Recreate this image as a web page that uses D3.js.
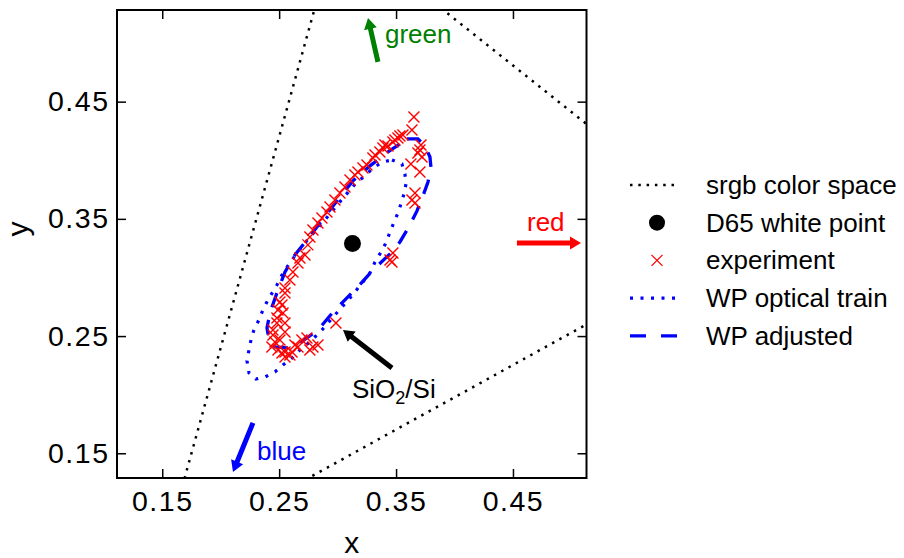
<!DOCTYPE html>
<html>
<head>
<meta charset="utf-8">
<script src="https://cdn.jsdelivr.net/npm/d3@7"></script>
<style>
body { margin: 0; background: #fff; }
text { font-family: "Liberation Sans", Arial, sans-serif; }
</style>
</head>
<body>
<script>
// axis ticks
const xTicks = [0.15, 0.25, 0.35, 0.45];
const yTicks = [0.15, 0.25, 0.35, 0.45];
const tickLabels = ['0.15', '0.25', '0.35', '0.45'];

// srgb triangle R, G, B (closed)
const srgbX = [0.64, 0.30, 0.15, 0.64];
const srgbY = [0.33, 0.60, 0.06, 0.33];

// D65 white point
const d65 = [0.3127, 0.3290];

// measured chromaticities
const expX = [0.3653,0.3636,0.3559,0.3533,0.3516,0.3490,0.3473,0.3431,0.3405,0.3388,0.3362,0.3320,0.3302,
  0.3251,0.3217,0.3174,0.3148,0.3106,0.3063,0.3020,0.2977,0.2935,0.2909,0.2866,0.2832,0.2789,0.2763,0.2746,
  0.2721,0.2678,0.2661,0.2618,0.2592,0.2550,0.2550,0.2507,0.2524,0.2490,0.2533,0.2481,0.2550,0.2481,0.2447,
  0.2550,0.2447,0.2464,0.2507,0.2438,0.2490,0.2550,0.2610,0.2635,0.2661,0.2695,0.2738,0.2789,0.2763,0.2832,
  0.2550,0.2592,0.2524,
  0.3713,0.3704,0.3722,0.3687,0.3627,0.3704,0.3662,0.3636,0.3662,0.3473,0.3448,0.3465,
  0.2986];
const expY = [0.4370,0.4259,0.4216,0.4207,0.4190,0.4173,0.4156,0.4122,0.4131,0.4105,0.4071,0.4045,0.4020,
  0.3960,0.3934,0.3900,0.3875,0.3832,0.3772,0.3721,0.3661,0.3602,0.3559,0.3508,0.3465,0.3405,0.3346,0.3278,
  0.3192,0.3167,0.3124,0.3047,0.2979,0.2911,0.2868,0.2791,0.2765,0.2723,0.2697,0.2655,0.2612,0.2612,0.2552,
  0.2535,0.2510,0.2450,0.2467,0.2407,0.2382,0.2365,0.2365,0.2424,0.2407,0.2467,0.2484,0.2407,0.2382,0.2424,
  0.2322,0.2339,0.2356,
  0.4131,0.4088,0.4028,0.4062,0.3969,0.3900,0.3721,0.3661,0.3636,0.3209,0.3150,0.3132,
  0.2612];

// white point loop, optical train model
const optX = [0.3465,0.3550,0.3576,0.3585,0.3568,0.3542,0.3516,0.3473,0.3439,0.3405,0.3362,0.3320,0.3277,
  0.3217,0.3106,0.2977,0.2866,0.2763,0.2678,0.2610,0.2533,0.2464,0.2379,0.2302,0.2242,0.2225,0.2242,0.2259,
  0.2284,0.2327,0.2361,0.2404,0.2481,0.2533,0.2652,0.2763,0.2892,0.3054,0.3166,0.3234,0.3302,0.3388,0.3465];
const optY = [0.4003,0.3969,0.3883,0.3798,0.3713,0.3627,0.3550,0.3448,0.3363,0.3278,0.3201,0.3132,0.3039,
  0.2962,0.2825,0.2680,0.2552,0.2450,0.2382,0.2313,0.2254,0.2194,0.2151,0.2134,0.2185,0.2288,0.2382,0.2467,
  0.2552,0.2638,0.2723,0.2808,0.2936,0.3039,0.3209,0.3346,0.3491,0.3687,0.3815,0.3866,0.3934,0.3986,0.4003];

// white point loop, adjusted
const adjX = [0.3593,0.3687,0.3747,0.3790,0.3799,0.3773,0.3730,0.3679,0.3610,0.3533,0.3448,0.3320,0.3148,
  0.2977,0.2832,0.2678,0.2567,0.2464,0.2413,0.2396,0.2421,0.2481,0.2550,0.2635,0.2738,0.2849,0.2994,0.3131,
  0.3277,0.3431,0.3533,0.3593];
const adjY = [0.4182,0.4182,0.4122,0.4028,0.3934,0.3815,0.3696,0.3568,0.3431,0.3303,0.3201,0.3081,0.2894,
  0.2723,0.2552,0.2441,0.2399,0.2407,0.2467,0.2569,0.2697,0.2868,0.3047,0.3192,0.3320,0.3465,0.3653,0.3824,
  0.3952,0.4071,0.4139,0.4182];

// annotations: tail -> tip, label anchor (all in chart units)
const notes = [
  {label: 'green', color: '#008000', tail: [0.3345, 0.4839], tip: [0.3260, 0.5214], at: [0.3405, 0.5001]},
  {label: 'red', color: '#ff0000', tail: [0.4534, 0.3295], tip: [0.5082, 0.3295], at: [0.4620, 0.3397]},
  {label: 'blue', color: '#0000ff', tail: [0.2276, 0.1759], tip: [0.2105, 0.1341], at: [0.2310, 0.1443]},
  {label: 'SiO2/Si', color: '#000000', tail: [0.3465, 0.2228], tip: [0.3046, 0.2552], at: [0.3123, 0.1972]}
];

const legendLabels = ['srgb color space', 'D65 white point', 'experiment', 'WP optical train', 'WP adjusted'];

const width = 904, height = 558;
const plot = {left: 117, right: 586.5, top: 10, bottom: 478};

const svg = d3.select('body').append('svg')
  .attr('width', width)
  .attr('height', height);

const x = d3.scaleLinear().domain([0.1113, 0.5129]).range([plot.left, plot.right]);
const y = d3.scaleLinear().domain([0.1289, 0.5282]).range([plot.bottom, plot.top]);

svg.append('clipPath').attr('id', 'clip')
  .append('rect')
  .attr('x', plot.left).attr('y', plot.top)
  .attr('width', plot.right - plot.left).attr('height', plot.bottom - plot.top);

const area = svg.append('g').attr('clip-path', 'url(#clip)');

const line = d3.line().x(d => x(d[0])).y(d => y(d[1]));

area.append('path')
  .attr('d', line(d3.zip(srgbX, srgbY)))
  .attr('fill', 'none')
  .attr('stroke', 'black')
  .attr('stroke-width', 2.5)
  .attr('stroke-dasharray', '2.5,5.8');

area.append('path')
  .attr('d', line(d3.zip(optX, optY)))
  .attr('fill', 'none')
  .attr('stroke', 'blue')
  .attr('stroke-width', 3.2)
  .attr('stroke-dasharray', '3,7.5');

area.append('path')
  .attr('d', line(d3.zip(adjX, adjY)))
  .attr('fill', 'none')
  .attr('stroke', 'blue')
  .attr('stroke-width', 3.3)
  .attr('stroke-dasharray', '15,13');

area.append('circle')
  .attr('cx', x(d65[0]))
  .attr('cy', y(d65[1]))
  .attr('r', 8.5)
  .attr('fill', 'black');

const cross = 'M-5.5,-5.5L5.5,5.5M-5.5,5.5L5.5,-5.5';

area.selectAll('.exp').data(d3.zip(expX, expY))
  .enter()
    .append('path')
    .attr('class', 'exp')
    .attr('d', cross)
    .attr('transform', d => `translate(${x(d[0])},${y(d[1])})`)
    .attr('fill', 'none')
    .attr('stroke', 'red')
    .attr('stroke-width', 1.4);

// arrows
function arrowPoints(x1, y1, x2, y2) {
  const dx = x2 - x1, dy = y2 - y1;
  const len = Math.sqrt(dx * dx + dy * dy);
  const ux = dx / len, uy = dy / len;
  const nx = -uy, ny = ux;
  const w = 2.5, hw = 6.5, hl = 11;
  const bx = x2 - ux * hl, by = y2 - uy * hl;
  return [
    [x1 + nx * w, y1 + ny * w],
    [bx + nx * w, by + ny * w],
    [bx + nx * hw, by + ny * hw],
    [x2, y2],
    [bx - nx * hw, by - ny * hw],
    [bx - nx * w, by - ny * w],
    [x1 - nx * w, y1 - ny * w]
  ].map(p => p.join(',')).join(' ');
}

notes.forEach(n => {
  svg.append('polygon')
    .attr('points', arrowPoints(x(n.tail[0]), y(n.tail[1]), x(n.tip[0]), y(n.tip[1])))
    .attr('fill', n.color);

  let t = svg.append('text')
    .attr('x', x(n.at[0]))
    .attr('y', y(n.at[1]))
    .attr('fill', n.color)
    .attr('font-size', 26);

  if (n.label == 'SiO2/Si') {
    t.append('tspan').text('SiO');
    t.append('tspan').attr('font-size', 18).attr('dy', 6).text('2');
    t.append('tspan').attr('dy', -6).text('/Si');
  } else {
    t.text(n.label);
  }
});

// axes, ticks pointing inward on all sides
const tickLen = 9;

svg.append('g')
  .attr('transform', `translate(0,${plot.bottom})`)
  .call(d3.axisBottom(x).tickValues(xTicks).tickSize(-tickLen).tickPadding(13)
    .tickFormat((d, i) => tickLabels[i]))
  .call(g => g.select('.domain').remove());

svg.append('g')
  .attr('transform', `translate(0,${plot.top})`)
  .call(d3.axisTop(x).tickValues(xTicks).tickSize(-tickLen).tickFormat(''))
  .call(g => g.select('.domain').remove());

svg.append('g')
  .attr('transform', `translate(${plot.left},0)`)
  .call(d3.axisLeft(y).tickValues(yTicks).tickSize(-tickLen).tickPadding(7.5)
    .tickFormat((d, i) => tickLabels[i]))
  .call(g => g.select('.domain').remove());

svg.append('g')
  .attr('transform', `translate(${plot.right},0)`)
  .call(d3.axisRight(y).tickValues(yTicks).tickSize(-tickLen).tickFormat(''))
  .call(g => g.select('.domain').remove());

svg.selectAll('.tick line')
  .attr('stroke', 'black')
  .attr('stroke-width', 1.5);

svg.selectAll('.tick text')
  .attr('fill', 'black')
  .attr('font-size', 28.5)
  .attr('letter-spacing', 1.5)
  .attr('font-family', '"Liberation Sans", Arial, sans-serif');

svg.append('rect')
  .attr('x', plot.left).attr('y', plot.top)
  .attr('width', plot.right - plot.left).attr('height', plot.bottom - plot.top)
  .attr('fill', 'none')
  .attr('stroke', 'black')
  .attr('stroke-width', 2);

svg.append('text')
  .attr('x', (plot.left + plot.right) / 2)
  .attr('y', 553)
  .attr('text-anchor', 'middle')
  .attr('font-size', 30)
  .text('x');

svg.append('text')
  .attr('transform', 'translate(28,229) rotate(-90)')
  .attr('text-anchor', 'middle')
  .attr('font-size', 30)
  .text('y');

// legend
const legend = svg.append('g').attr('transform', 'translate(630,185)');
const rowH = 37.7;

legend.selectAll('.lab').data(legendLabels)
  .enter()
    .append('text')
    .attr('class', 'lab')
    .attr('x', 76)
    .attr('y', (d, i) => i * rowH + 9)
    .attr('font-size', 26)
    .text(d => d);

legend.append('line')
  .attr('x1', 0).attr('x2', 48).attr('y1', 0).attr('y2', 0)
  .attr('stroke', 'black').attr('stroke-width', 2.5).attr('stroke-dasharray', '2.5,5.8');

legend.append('circle')
  .attr('cx', 27).attr('cy', rowH).attr('r', 8)
  .attr('fill', 'black');

legend.append('path')
  .attr('d', cross)
  .attr('transform', `translate(27,${rowH * 2})`)
  .attr('fill', 'none').attr('stroke', 'red').attr('stroke-width', 1.3);

legend.append('line')
  .attr('x1', 0).attr('x2', 48).attr('y1', rowH * 3).attr('y2', rowH * 3)
  .attr('stroke', 'blue').attr('stroke-width', 3.2).attr('stroke-dasharray', '3,7.5');

legend.append('line')
  .attr('x1', 0).attr('x2', 48).attr('y1', rowH * 4).attr('y2', rowH * 4)
  .attr('stroke', 'blue').attr('stroke-width', 3.3).attr('stroke-dasharray', '16,15');
</script>
</body>
</html>
